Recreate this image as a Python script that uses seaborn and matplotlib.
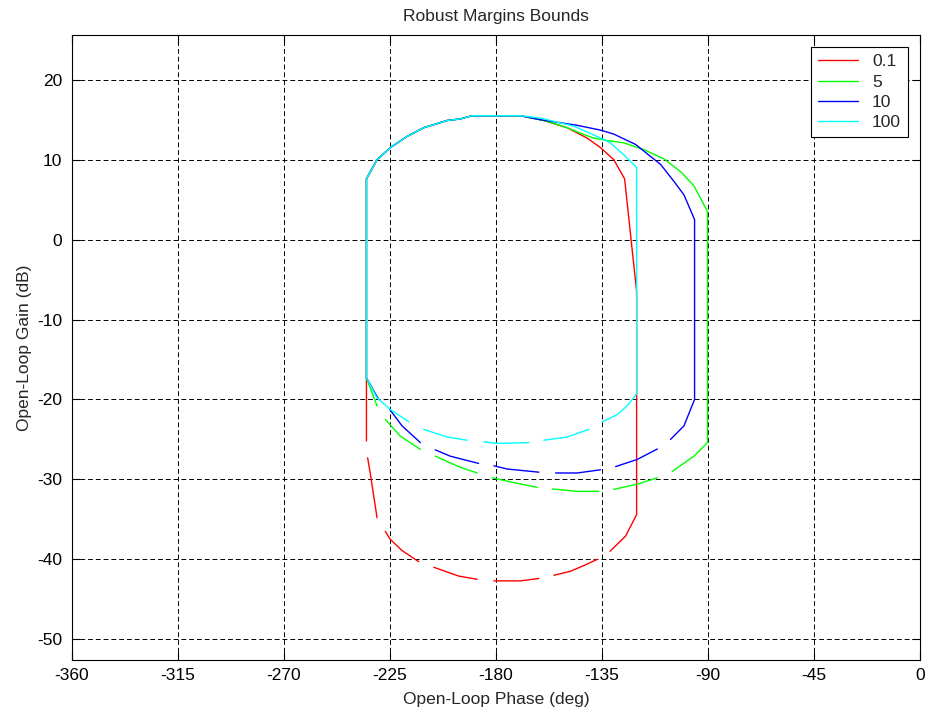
import numpy as np
import pandas as pd
import matplotlib
matplotlib.use("Agg")
import matplotlib.pyplot as plt
import seaborn as sns

nan = np.nan

# ---- data (NaN = gap in the curve) ----
labels = ["0.1", "5", "10", "100"]
colors = ["#ff0000", "#00ff00", "#0000ff", "#00ffff"]

phase_01 = [-235, -235, -235, -230.5, -224.9, -217.8, -210.7, -200.8, -195.1, -190.2, -169.6,
            -159.7, -149.8, -141.3, -135.6, -130, -125.4, -120.3, -120.3, -125, -131.6, nan,
            -137, -141.3, -148.4, -155.4, nan, -161.8, -169.6, -180.9, nan,
            -188, -195.8, -206.4, nan, -212.8, -219.9, -224.9, -227, nan,
            -230.5, -233.4, -234.5]
gain_01 = [-25.2, -17.3, 7.6, 10, 11.5, 12.9, 14.0, 14.9, 15.1, 15.5, 15.5,
           14.9, 14.0, 12.7, 11.5, 10, 7.6, -6.5, -34.4, -37.1, -39.0, nan,
           -40.0, -40.6, -41.5, -42.0, nan, -42.4, -42.7, -42.7, nan,
           -42.5, -42.1, -41.0, nan, -40.3, -38.9, -37.5, -36.5, nan,
           -34.8, -29.2, -27.3]

phase_5 = [-230.5, -235, -235, -230.5, -224.9, -217.8, -210.7, -200.8, -195.1, -190.2, -169.6,
           -158.3, -149.8, -144.1, -138.5, -132.8, -125.7, -117.2, -108.7, -101.6, -95.9, -90.2,
           -90.2, -96, -105.2, nan, -111.5, -120, -130, nan, -136.3, -145.5, -156.1, nan,
           -162.5, -172.5, -181.7, nan, -188, -195.1, -205.8, nan, -212.1, -220.6, -227]
gain_5 = [-20.8, -17.3, 7.6, 10, 11.5, 12.9, 14.0, 14.9, 15.1, 15.5, 15.5,
          14.8, 14.0, 13.3, 12.7, 12.4, 12.1, 11.25, 10.1, 8.5, 6.7, 3.5,
          -25.4, -27.1, -29.0, nan, -29.8, -30.6, -31.25, nan, -31.5, -31.5, -31.2, nan,
          -31.0, -30.4, -29.8, nan, -29.2, -28.5, -27.1, nan, -26.25, -24.6, -22.5]

phase_10 = [-229.8, -235, -235, -230.5, -224.9, -217.8, -210.7, -200.8, -195.1, -190.2, -169.6,
            -161.1, -145.6, -135.6, -130, -120.7, -114.4, -110.1, -104.5, -100.2, -95.7,
            -95.7, -100.2, -105.9, nan, -111.5, -120, -129.2, nan, -135.6, -145.5, -154.7, nan,
            -161.8, -175.3, -180.9, nan, -187.4, -199.4, -205.8, nan, -212.1, -219.9, -225.1]
gain_10 = [-20.0, -17.3, 7.6, 10, 11.5, 12.9, 14.0, 14.9, 15.1, 15.5, 15.5,
           15.0, 14.3, 13.7, 13.2, 11.9, 10.4, 9.4, 7.3, 5.6, 2.5,
           -20.0, -23.3, -25.0, nan, -26.2, -27.5, -28.4, nan, -28.8, -29.2, -29.2, nan,
           -29.1, -28.7, -28.3, nan, -28.0, -27.1, -26.3, nan, -25.4, -23.3, -21.25]

phase_100 = [-235, -230.5, -224.9, -217, nan, -210.7, -200.8, -192.3, nan,
             -185.2, -179.5, -166, nan, -159.7, -149.8, -140.6, nan,
             -134.9, -128.5, -124.3, -120.3, -120.3, -125.7, -131.4, -138.5, -147, -161.1,
             -169.6, -190.2, -195.1, -200.8, -210.7, -217.8, -224.9, -230.5, -235, -235]
gain_100 = [-17.3, -19.8, -21.25, -22.8, nan, -23.75, -24.7, -25.1, nan,
            -25.3, -25.5, -25.4, nan, -25.1, -24.7, -23.75, nan,
            -22.8, -21.9, -20.8, -19.3, 9.0, 10.6, 12.1, 13.1, 14.2, 15.2,
            15.5, 15.5, 15.1, 14.9, 14.0, 12.9, 11.5, 10, 7.6, -17.3]

x_ticks = [-360, -315, -270, -225, -180, -135, -90, -45, 0]
y_ticks = [-50, -40, -30, -20, -10, 0, 10, 20]

# ---- build long table, each NaN-separated piece is its own unit ----
rows = []
for lab, xs, ys in zip(labels, [phase_01, phase_5, phase_10, phase_100],
                       [gain_01, gain_5, gain_10, gain_100]):
    seg = 0
    order = 0
    for x, y in zip(xs, ys):
        if np.isnan(x):
            seg += 1
            continue
        rows.append({"series": lab, "unit": f"{lab}_{seg}", "order": order,
                     "phase": x, "gain": y})
        order += 1
df = pd.DataFrame(rows)

sns.set_style("ticks")
plt.rcParams["font.family"] = ["Liberation Sans", "DejaVu Sans"]

fig = plt.figure(figsize=(9.3, 7.12), dpi=100)
ax = fig.add_axes([72 / 930, 1 - 660 / 712, (920 - 72) / 930, (660 - 35) / 712])

sns.lineplot(data=df, x="phase", y="gain", hue="series", units="unit",
             estimator=None, sort=False, palette=dict(zip(labels, colors)),
             hue_order=labels, linewidth=1.0, ax=ax)

ax.set_xlim(-360, 0)
ax.set_ylim(-52.6, 25.6)
ax.set_xticks(x_ticks)
ax.set_xticklabels([str(t) for t in x_ticks])
ax.set_yticks(y_ticks)
ax.set_yticklabels([str(t) for t in y_ticks])
ax.grid(True, color="black", linestyle=(0, (5, 3)), linewidth=0.7)
ax.set_axisbelow(True)
ax.tick_params(direction="in", length=5.5, width=0.8, labelsize=12.5,
               top=True, right=True, colors="black")
ax.tick_params(axis="x", pad=6)
ax.tick_params(axis="y", pad=7)
for s in ax.spines.values():
    s.set_color("black")
    s.set_linewidth(0.8)

ax.set_title("Robust Margins Bounds", fontsize=12.5, pad=10)
ax.set_xlabel("Open-Loop Phase (deg)", fontsize=12.5, labelpad=6)
ax.set_ylabel("Open-Loop Gain (dB)", fontsize=12.5, labelpad=4)

leg = ax.legend(loc="upper right", fontsize=12.5, frameon=True, fancybox=False,
                edgecolor="black", framealpha=1, handlelength=2.3,
                labelspacing=0.3, borderaxespad=0.7, borderpad=0.4)
leg.get_frame().set_linewidth(0.8)
for h in leg.get_lines():
    h.set_linewidth(1.0)

fig.savefig("out.png", dpi=100)
